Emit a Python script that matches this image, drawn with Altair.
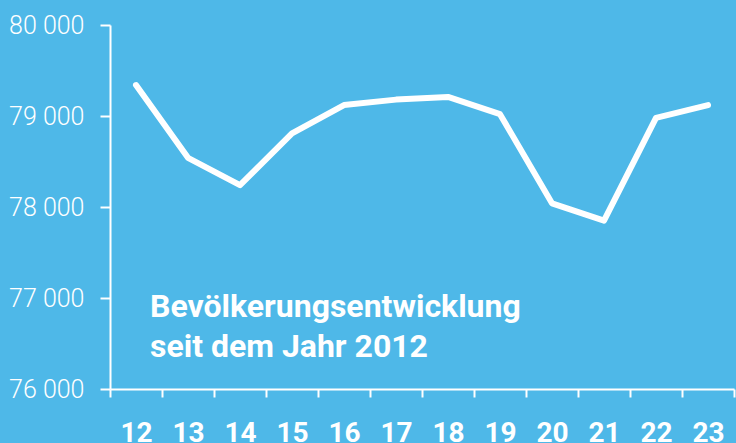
import altair as alt
import pandas as pd

years = ["12", "13", "14", "15", "16", "17", "18", "19", "20", "21", "22", "23"]
population = [79340, 78540, 78240, 78810, 79120, 79180, 79210, 79020, 78040, 77850, 78980, 79120]
y_ticks = [76000, 77000, 78000, 79000, 80000]
title_lines = ["Bevölkerungsentwicklung", "seit dem Jahr 2012"]

df = pd.DataFrame({"year": years, "pop": population})
BG = "#4eb8e8"

line = alt.Chart(df).mark_line(color="white", strokeWidth=6, strokeCap="round", strokeJoin="round").encode(
    x=alt.X("year:N", sort=years,
            scale=alt.Scale(paddingInner=0, paddingOuter=0),
            axis=alt.Axis(title=None, labelAngle=0, tickBand="extent", domainColor="white", domainWidth=2,
                          tickColor="white", tickWidth=2, tickSize=8, labelColor="white",
                          labelFont="Roboto", labelFontWeight="bold", labelFontSize=28,
                          labelPadding=22, labelBaseline="top", grid=False)),
    y=alt.Y("pop:Q", scale=alt.Scale(domain=[76000, 80000], nice=False, zero=False),
            axis=alt.Axis(title=None, values=y_ticks, domainColor="white", domainWidth=2,
                          tickColor="white", tickWidth=2, tickSize=10, labelColor="white",
                          labelFont="Roboto", labelFontWeight=300, labelFontSize=25,
                          labelPadding=16, grid=False,
                          labelExpr="replace(format(datum.value, ','), ',', ' ')")),
)

tdf = pd.DataFrame({"t": title_lines})
text_style = dict(color="white", font="Roboto", fontWeight="bold", fontSize=32,
                  align="left", baseline="alphabetic")
text1 = alt.Chart(tdf).transform_filter(alt.datum.t == title_lines[0]).mark_text(**text_style).encode(
    text="t:N", x=alt.value(40), y=alt.value(292))
text2 = alt.Chart(tdf).transform_filter(alt.datum.t == title_lines[1]).mark_text(**text_style).encode(
    text="t:N", x=alt.value(40), y=alt.value(332))

chart = alt.layer(line, text1, text2).properties(
    width=624, height=364,
    autosize=alt.AutoSizeParams(type="none"),
    padding={"left": 110, "top": 25, "right": 2, "bottom": 54},
    background=BG,
).configure_view(stroke=None, fill=BG)

chart.save("out.html", embed_options={"renderer": "svg", "actions": False})
